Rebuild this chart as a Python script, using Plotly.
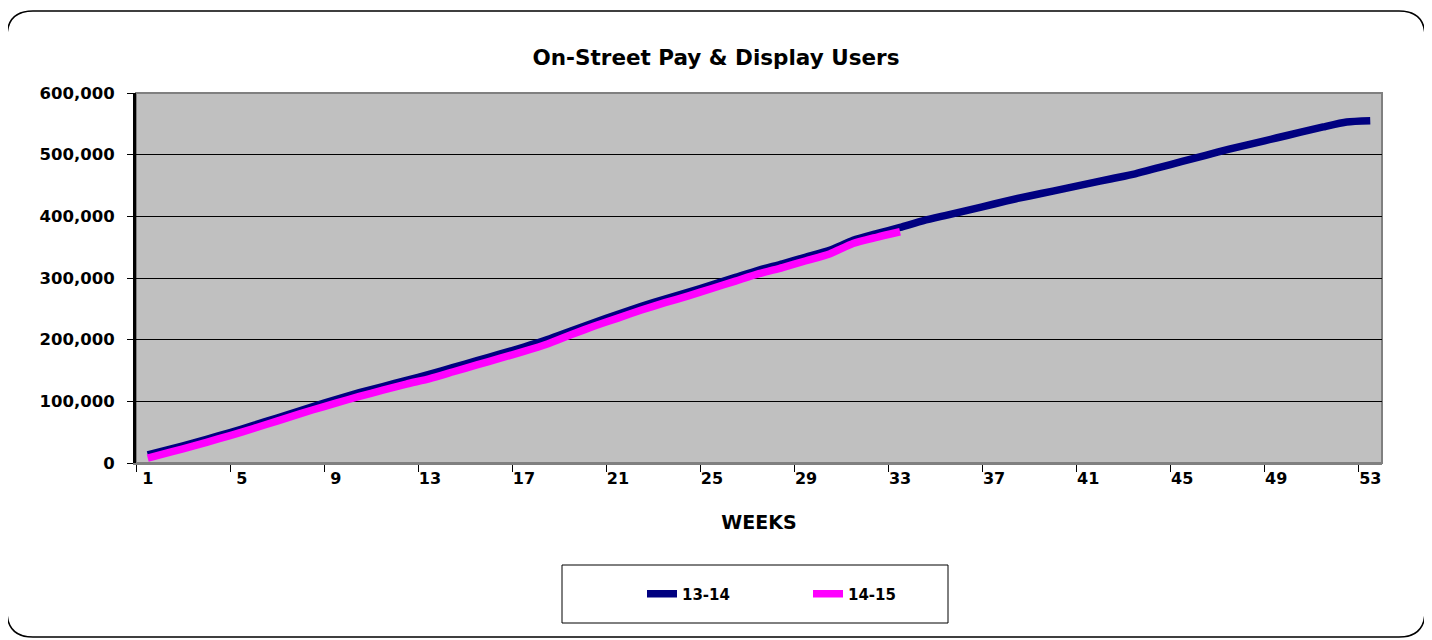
import plotly.graph_objects as go

# ---------------- data ----------------
weeks = list(range(1, 54))
tick_weeks = [1, 5, 9, 13, 17, 21, 25, 29, 33, 37, 41, 45, 49, 53]

users_13_14 = [
    13000, 23000, 33000, 44000, 55000, 67000, 79000, 91000, 103000, 114000,
    124000, 134000, 144000, 155000, 166000, 177000, 188000, 200000, 214000, 228000,
    241000, 254000, 266000, 277000, 289000, 301000, 313000, 323000, 334000, 345000,
    361000, 372000, 382000, 393000, 402000, 411000, 420000, 429000, 437000, 445000,
    453000, 461000, 469000, 479000, 489000, 499000, 509000, 518000, 527000, 536000,
    545000, 553000, 555000,
]
users_14_15 = [
    8000, 18000, 28000, 39000, 50000, 62000, 74000, 86000, 97000, 108000,
    118000, 128000, 137000, 148000, 159000, 170000, 181000, 193000, 208000, 222000,
    235000, 248000, 260000, 271000, 283000, 295000, 307000, 317000, 328000, 339000,
    356000, 366000, 375000,
]

series_names = ["13-14", "14-15"]
series_colors = ["#000080", "#FF00FF"]

title_text = "On-Street Pay & Display Users"
x_title = "WEEKS"

# ---------------- layout geometry (target-page pixels) ----------------
OFF = 8                      # default page body margin
W, H = 1432 - OFF, 640 - OFF
PL, PR, PT, PB = 136, 1382, 93, 463   # plot area in page pixels


def fx(x):
    return (x - PL) / (PR - PL)


def fy(y):
    return (PB - y) / (PB - PT)


def rounded_rect(x0, y0, x1, y1, r):
    a, b, c, d = fx(x0), fy(y0), fx(x1), fy(y1)
    rx = r / (PR - PL)
    ry = r / (PB - PT)
    return (
        f"M {a + rx} {b} L {c - rx} {b} Q {c} {b} {c} {b - ry} "
        f"L {c} {d + ry} Q {c} {d} {c - rx} {d} "
        f"L {a + rx} {d} Q {a} {d} {a} {d + ry} "
        f"L {a} {b - ry} Q {a} {b} {a + rx} {b} Z"
    )


FONT = "DejaVu Sans, Arial, sans-serif"

fig = go.Figure()
for name, vals, col in zip(series_names, [users_13_14, users_14_15], series_colors):
    fig.add_trace(go.Scatter(
        x=weeks[:len(vals)], y=vals, name=name, mode="lines",
        line=dict(color=col, width=7.5, shape="spline", smoothing=0.6),
    ))

boundaries = [w - 0.5 for w in tick_weeks]

fig.update_layout(
    width=W, height=H,
    margin=dict(l=PL - OFF, r=1432 - PR, t=PT - OFF, b=640 - PB),
    paper_bgcolor="white",
    plot_bgcolor="#C0C0C0",
    title=dict(text=title_text, x=(716 - OFF) / W, xanchor="center", xref="container",
               y=1 - (57 - OFF) / H, yanchor="middle", yref="container",
               font=dict(family=FONT, size=21.5, color="black", weight="bold")),
    showlegend=True,
    legend=dict(orientation="h", x=fx(808), xanchor="center", y=fy(594), yanchor="middle",
                font=dict(family=FONT, size=15, color="black", weight="bold"),
                bgcolor="rgba(0,0,0,0)", borderwidth=0,
                entrywidth=121, entrywidthmode="pixels"),
    xaxis=dict(
        range=[0.5, 53.5], tickmode="array", tickvals=tick_weeks,
        ticktext=[str(t) for t in tick_weeks], ticks="",
        showgrid=False, zeroline=False,
        showline=True, linecolor="#808080", linewidth=2,
        tickfont=dict(family=FONT, size=16, color="black", weight="bold"),
        ticklabelstandoff=0,
        minor=dict(tickmode="array", tickvals=boundaries, ticks="outside",
                   ticklen=7, tickcolor="black", tickwidth=1, showgrid=False),
        title=dict(text=x_title, standoff=28,
                   font=dict(family=FONT, size=19, color="black", weight="bold")),
    ),
    yaxis=dict(
        range=[0, 600000], dtick=100000, tick0=0, tickformat=",",
        ticks="outside", ticklen=6, tickcolor="black", tickwidth=1,
        showgrid=True, gridcolor="black", gridwidth=1,
        zeroline=False, showline=True, linecolor="black", linewidth=3,
        tickfont=dict(family=FONT, size=16.5, color="black", weight="bold"),
        ticklabelstandoff=9,
    ),
    shapes=[
        # plot area border (grey, top/right)
        dict(type="rect", xref="paper", yref="paper", x0=0, y0=0, x1=1, y1=1,
             line=dict(color="#808080", width=2), layer="below"),
        # outer rounded chart frame
        dict(type="path", xref="paper", yref="paper",
             path=rounded_rect(7, 11, 1425, 637, 26),
             line=dict(color="black", width=1.5)),
        # frame shadow on right edge
        dict(type="line", xref="paper", yref="paper",
             x0=fx(1426), x1=fx(1426), y0=fy(40), y1=fy(610),
             line=dict(color="black", width=3)),
        # legend box
        dict(type="rect", xref="paper", yref="paper",
             x0=fx(562), x1=fx(948), y0=fy(565), y1=fy(623),
             line=dict(color="black", width=1)),
    ],
)

fig.write_html("out.html")
